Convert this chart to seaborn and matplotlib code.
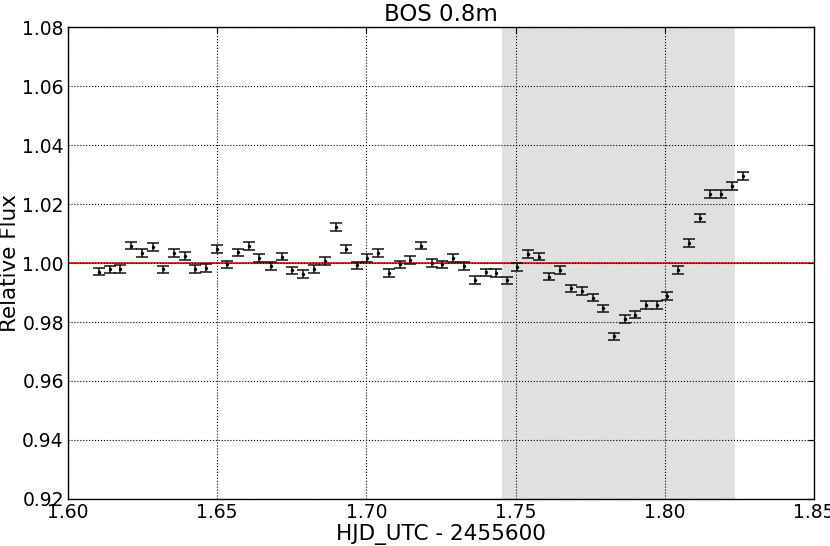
import numpy as np
import pandas as pd
import matplotlib
matplotlib.use('Agg')
import matplotlib.pyplot as plt
import seaborn as sns

# Time (HJD_UTC - 2455600) and relative flux
hjd = [1.6105, 1.6140, 1.6175, 1.6210, 1.6247, 1.6284, 1.6319, 1.6355, 1.6391, 1.6427,
       1.6462, 1.6498, 1.6534, 1.6571, 1.6607, 1.6641, 1.6679, 1.6716, 1.6752, 1.6789,
       1.6824, 1.6861, 1.6897, 1.6933, 1.6968, 1.7003, 1.7040, 1.7076, 1.7112, 1.7147,
       1.7183, 1.7219, 1.7254, 1.7290, 1.7326, 1.7364, 1.7400, 1.7434, 1.7470, 1.7506,
       1.7542, 1.7577, 1.7613, 1.7649, 1.7685, 1.7721, 1.7758, 1.7794, 1.7830, 1.7866,
       1.7901, 1.7937, 1.7973, 1.8008, 1.8045, 1.8081, 1.8117, 1.8153, 1.8188, 1.8224,
       1.8261]
flux = [0.9971, 0.9978, 0.9980, 1.0059, 1.0035, 1.0055, 0.9978, 1.0033, 1.0024, 0.9980,
        0.9984, 1.0047, 0.9995, 1.0036, 1.0058, 1.0018, 0.9990, 1.0022, 0.9975, 0.9963,
        0.9980, 1.0006, 1.0121, 1.0048, 0.9992, 1.0016, 1.0035, 0.9965, 0.9995, 1.0011,
        1.0059, 0.9999, 0.9995, 1.0018, 0.9990, 0.9943, 0.9968, 0.9965, 0.9941, 0.9987,
        1.0031, 1.0022, 0.9954, 0.9977, 0.9914, 0.9904, 0.9883, 0.9846, 0.9751, 0.9811,
        0.9825, 0.9857, 0.9857, 0.9889, 0.9977, 1.0068, 1.0153, 1.0235, 1.0235, 1.0262,
        1.0294]
flux_err = [0.0013] * len(flux)

# predicted transit window
transit_start = 1.7455
transit_end = 1.8235

df = pd.DataFrame({'hjd': hjd, 'flux': flux, 'err': flux_err})

sns.set_theme(style='white')
plt.rcParams['font.family'] = ['DejaVu Sans']
plt.rcParams.update({
    'xtick.direction': 'in',
    'ytick.direction': 'in',
    'xtick.top': True,
    'ytick.right': True,
    'xtick.color': 'black',
    'ytick.color': 'black',
    'axes.edgecolor': 'black',
    'axes.labelcolor': 'black',
    'text.color': 'black',
})

fig = plt.figure(figsize=(8.3, 5.46), dpi=100)
ax = fig.add_axes([0.0819, 0.0861, 0.8988, 0.8644])

ax.axvspan(transit_start, transit_end, color='#e0e0e0', lw=0, zorder=0)
ax.axhline(1.0, color='red', lw=1.2, zorder=1)

ax.errorbar(df['hjd'], df['flux'], yerr=df['err'], fmt='none', ecolor='#111111',
            elinewidth=1.1, capsize=4, capthick=1.1, zorder=3)
sns.scatterplot(data=df, x='hjd', y='flux', ax=ax, color='black', s=6,
                marker='o', linewidth=0, zorder=4)

ax.set_xlim(1.60, 1.85)
ax.set_ylim(0.92, 1.08)
ax.set_xticks(np.arange(1.60, 1.851, 0.05))
ax.set_yticks(np.arange(0.92, 1.0801, 0.02))
ax.xaxis.set_major_formatter(matplotlib.ticker.FormatStrFormatter('%.2f'))
ax.yaxis.set_major_formatter(matplotlib.ticker.FormatStrFormatter('%.2f'))
ax.grid(True, color='black', linestyle=':', linewidth=0.8)
ax.set_axisbelow(False)
for sp in ax.spines.values():
    sp.set_linewidth(1.0)
ax.tick_params(labelsize=13.5, length=4, width=0.8, pad=3, labelcolor='black')

ax.set_xlabel('HJD_UTC - 2455600', fontsize=15.5, labelpad=1)
ax.set_ylabel('Relative Flux', fontsize=15.5)
ax.yaxis.set_label_coords(-0.064, 0.5)
ax.set_title('BOS 0.8m', fontsize=16.5, pad=4, color='black')

fig.savefig('out.png', dpi=100)
